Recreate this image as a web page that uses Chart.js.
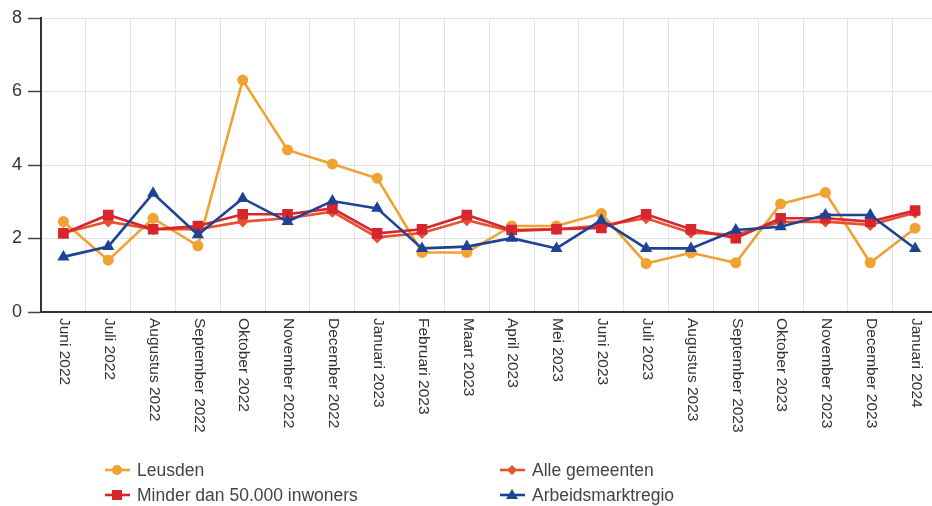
<!DOCTYPE html>
<html>
<head>
<meta charset="utf-8">
<script src="https://cdn.jsdelivr.net/npm/chart.js@4"></script>
<style>
  html, body { margin:0; padding:0; background:#fff; overflow:hidden; width:932px; height:506px; }
  #wrap { position:absolute; left:0; top:0; width:945px; height:445px; }
  #legend { position:absolute; left:0; top:0; width:932px; height:506px; pointer-events:none;
            font-family:"Liberation Sans", Arial, sans-serif; font-size:17.5px; color:#444; }
  .item { position:absolute; display:flex; align-items:center; height:22px; white-space:nowrap; }
  .item svg { margin-right:7px; }
</style>
</head>
<body>
<div id="wrap"><canvas id="c"></canvas></div>
<div id="legend"></div>
<script>
const categories = ['Juni 2022','Juli 2022','Augustus 2022','September 2022','Oktober 2022','November 2022','December 2022','Januari 2023','Februari 2023','Maart 2023','April 2023','Mei 2023','Juni 2023','Juli 2023','Augustus 2023','September 2023','Oktober 2023','November 2023','December 2023','Januari 2024'];
const seriesNames = ['Leusden','Alle gemeenten','Minder dan 50.000 inwoners','Arbeidsmarktregio'];
const leusden = [2.46,1.41,2.55,1.80,6.31,4.41,4.03,3.64,1.62,1.62,2.34,2.34,2.68,1.32,1.61,1.34,2.94,3.25,1.34,2.28];
const alleGemeenten = [2.15,2.46,2.25,2.25,2.46,2.55,2.73,2.03,2.15,2.50,2.20,2.25,2.35,2.55,2.16,2.10,2.45,2.46,2.37,2.70];
const minder50000 = [2.14,2.64,2.25,2.34,2.66,2.66,2.82,2.14,2.25,2.64,2.23,2.25,2.29,2.66,2.25,2.01,2.55,2.55,2.46,2.76];
const arbeidsmarktregio = [1.50,1.78,3.23,2.10,3.09,2.46,3.02,2.82,1.73,1.78,2.01,1.73,2.50,1.73,1.73,2.23,2.32,2.64,2.64,1.73];
const yTicks = [0,2,4,6,8];

const colors = ['#F0A232','#E8502E','#D8262E','#1F4393'];
const shapes = ['circle','rectRot','rect','triangle'];
const radii = [5.5,6,7.5,7];
const values = [leusden, alleGemeenten, minder50000, arbeidsmarktregio];
const orders = [4,3,2,1];

const datasets = values.map((v,i)=>({
  label: seriesNames[i], data: v,
  borderColor: colors[i], backgroundColor: colors[i],
  pointBackgroundColor: colors[i], pointBorderColor: colors[i],
  pointStyle: shapes[i], pointRadius: radii[i], pointBorderWidth: 0,
  borderWidth: 2.6, tension: 0, order: orders[i]
}));

const xLabelPlugin = {
  id: 'xLabels',
  afterDraw(chart) {
    const xs = chart.scales.x, ctx = chart.ctx;
    ctx.save();
    ctx.font = '15.5px "Liberation Sans", Arial, sans-serif';
    ctx.fillStyle = '#333';
    ctx.textAlign = 'left';
    ctx.textBaseline = 'middle';
    categories.forEach((lab, i) => {
      const x = xs.getPixelForValue(i);
      ctx.save();
      ctx.translate(x + 1, xs.top + 6);
      ctx.rotate(Math.PI / 2);
      ctx.fillText(lab, 0, 0);
      ctx.restore();
    });
    ctx.restore();
  }
};

new Chart(document.getElementById('c'), {
  type: 'line',
  data: { labels: categories, datasets },
  options: {
    responsive: true, maintainAspectRatio: false, animation: false,
    layout: { padding: { top: 18, right: 4, left: 0, bottom: 0 } },
    plugins: { legend: { display: false }, tooltip: { enabled: false } },
    scales: {
      x: {
        offset: true,
        grid: { offset: true, color: '#e2e2e2', lineWidth: 1, drawTicks: false },
        border: { color: '#333', width: 2 },
        ticks: { display: false },
        afterFit(s) { s.height = 133; }
      },
      y: {
        min: 0, max: 8,
        afterBuildTicks(s) { s.ticks = yTicks.map(v => ({ value: v })); },
        grid: { color: '#e2e2e2', lineWidth: 1, tickLength: 13, tickColor: '#444', tickWidth: 1.5 },
        border: { color: '#333', width: 2 },
        ticks: { color: '#333', padding: 6, font: { size: 18, family: '"Liberation Sans", Arial, sans-serif' } },
        afterFit(s) { s.width = 41; }
      }
    }
  },
  plugins: [xLabelPlugin]
});

// Legend (HTML, real text); use a narrow face if one is installed
(function(){
  const cv = document.createElement('canvas').getContext('2d');
  cv.font = '20px "Liberation Sans Narrow", monospace';
  const w1 = cv.measureText('Minder dan 50.000 inwoners').width;
  cv.font = '20px monospace';
  const w2 = cv.measureText('Minder dan 50.000 inwoners').width;
  if (Math.abs(w1 - w2) > 1) {
    const lgEl = document.getElementById('legend');
    lgEl.style.fontFamily = '"Liberation Sans Narrow", "Liberation Sans", Arial, sans-serif';
    lgEl.style.fontSize = '21px';
  }
})();
const legendPos = [[105,459],[500,459],[105,484],[500,484]];
const lg = document.getElementById('legend');
function markerSVG(i) {
  const c = colors[i];
  let shape = '';
  if (shapes[i] === 'circle') shape = `<circle cx="12" cy="11" r="5" fill="${c}"/>`;
  else if (shapes[i] === 'rectRot') shape = `<polygon points="12,6 17,11 12,16 7,11" fill="${c}"/>`;
  else if (shapes[i] === 'rect') shape = `<rect x="7" y="6" width="10" height="10" fill="${c}"/>`;
  else shape = `<polygon points="12,5 18,15 6,15" fill="${c}"/>`;
  return `<svg width="25" height="22"><line x1="0" y1="11" x2="25" y2="11" stroke="${c}" stroke-width="2.6"/>${shape}</svg>`;
}
seriesNames.forEach((n,i)=>{
  const d = document.createElement('div');
  d.className = 'item';
  d.style.left = legendPos[i][0] + 'px';
  d.style.top = legendPos[i][1] + 'px';
  d.innerHTML = markerSVG(i) + '<span>' + n + '</span>';
  lg.appendChild(d);
});
</script>
</body>
</html>
